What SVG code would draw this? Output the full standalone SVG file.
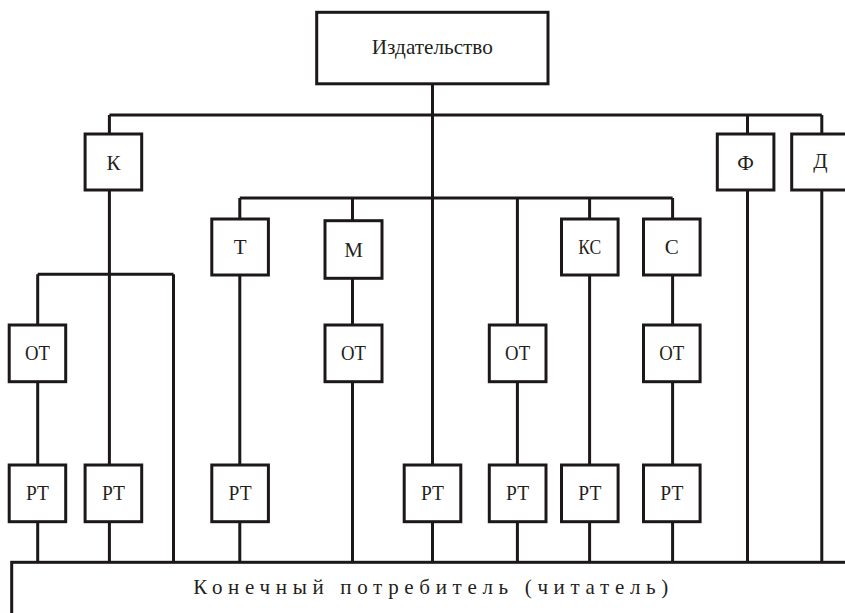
<svg xmlns="http://www.w3.org/2000/svg" width="845" height="613" viewBox="0 0 845 613">
<style>
.box{fill:#fff;stroke:#1c1819;stroke-width:3}
.ln{fill:none;stroke:#1c1819;stroke-width:3;stroke-linecap:butt}
.t{font-family:'Liberation Serif','DejaVu Serif',serif;font-size:21px;fill:#231f20;text-anchor:middle}
</style>
<rect width="845" height="613" fill="#fff"/>
<g id="connectors">
<path class="ln" d="M432.5 84V465M432.5 521.7V562"/>
<path class="ln" d="M109.4 115H821.8"/>
<path class="ln" d="M109.4 115V134M109.4 190V465M109.4 521.7V562"/>
<path class="ln" d="M37.7 274.3H173.5"/>
<path class="ln" d="M37.7 274.3V325M37.7 381.7V465M37.7 521.7V562"/>
<path class="ln" d="M173.5 274.3V562"/>
<path class="ln" d="M747.5 115V134M747.5 190V562"/>
<path class="ln" d="M821.8 115V134M821.8 190V562"/>
<path class="ln" d="M239.8 198H672.6"/>
<path class="ln" d="M239.8 198V219M239.8 275V465M239.8 521.7V562"/>
<path class="ln" d="M352.5 198V220.7M352.5 278.3V325M352.5 381.7V562"/>
<path class="ln" d="M517.4 198V325M517.4 381.7V465M517.4 521.7V562"/>
<path class="ln" d="M589.6 198V219M589.6 275V465M589.6 521.7V562"/>
<path class="ln" d="M672.6 198V219M672.6 275V325M672.6 381.7V465M672.6 521.7V562"/>
</g>
<g id="izdatelstvo"><rect class="box" x="316.7" y="12.3" width="231.3" height="71.5"/><text class="t" font-family="Liberation Serif, serif" x="432.3" y="54" font-size="22" textLength="121" lengthAdjust="spacingAndGlyphs">Издательство</text></g>
<g id="k"><rect class="box" x="85.1" y="134" width="56.6" height="56"/><text class="t" x="113.4" y="170">К</text></g>
<g id="f"><rect class="box" x="717.3" y="134" width="56.6" height="56"/><text class="t" x="745.6" y="170">Ф</text></g>
<g id="d"><rect class="box" x="791.7" y="134" width="70" height="56"/><text class="t" x="820.5" y="168">Д</text></g>
<g id="t"><rect class="box" x="211.8" y="219" width="56.6" height="56"/><text class="t" x="240.1" y="254">Т</text></g>
<g id="m"><rect class="box" x="325" y="220.7" width="57" height="57.6"/><text class="t" x="353.5" y="256.5">М</text></g>
<g id="ks"><rect class="box" x="561.5" y="219" width="56.6" height="56"/><text class="t" x="589.8" y="254" textLength="23" lengthAdjust="spacingAndGlyphs">КС</text></g>
<g id="s"><rect class="box" x="643.5" y="219" width="56.6" height="56"/><text class="t" x="671.8" y="254">С</text></g>
<g id="ot1"><rect class="box" x="9.2" y="325" width="56.5" height="56.7"/><text class="t" x="37.5" y="360" textLength="25" lengthAdjust="spacingAndGlyphs">ОТ</text></g>
<g id="ot2"><rect class="box" x="325" y="325" width="57" height="56.7"/><text class="t" x="353.5" y="360" textLength="25" lengthAdjust="spacingAndGlyphs">ОТ</text></g>
<g id="ot3"><rect class="box" x="489.3" y="325" width="56.7" height="56.7"/><text class="t" x="517.6" y="360" textLength="25" lengthAdjust="spacingAndGlyphs">ОТ</text></g>
<g id="ot4"><rect class="box" x="643.5" y="325" width="56.6" height="56.7"/><text class="t" x="671.8" y="360" textLength="25" lengthAdjust="spacingAndGlyphs">ОТ</text></g>
<g id="rt1"><rect class="box" x="9.2" y="465" width="56.5" height="56.7"/><text class="t" x="37.5" y="500" textLength="23" lengthAdjust="spacingAndGlyphs">РТ</text></g>
<g id="rt2"><rect class="box" x="85.1" y="465" width="56.6" height="56.7"/><text class="t" x="113.4" y="500" textLength="23" lengthAdjust="spacingAndGlyphs">РТ</text></g>
<g id="rt3"><rect class="box" x="211.8" y="465" width="56.6" height="56.7"/><text class="t" x="240.1" y="500" textLength="23" lengthAdjust="spacingAndGlyphs">РТ</text></g>
<g id="rt4"><rect class="box" x="404.2" y="465" width="56.6" height="56.7"/><text class="t" x="432.5" y="500" textLength="23" lengthAdjust="spacingAndGlyphs">РТ</text></g>
<g id="rt5"><rect class="box" x="489.3" y="465" width="56.7" height="56.7"/><text class="t" x="517.6" y="500" textLength="23" lengthAdjust="spacingAndGlyphs">РТ</text></g>
<g id="rt6"><rect class="box" x="561.5" y="465" width="56.6" height="56.7"/><text class="t" x="589.8" y="500" textLength="23" lengthAdjust="spacingAndGlyphs">РТ</text></g>
<g id="rt7"><rect class="box" x="643.5" y="465" width="56.6" height="56.7"/><text class="t" x="671.8" y="500" textLength="23" lengthAdjust="spacingAndGlyphs">РТ</text></g>
<g id="consumer"><rect class="box" x="11.7" y="562.3" width="850" height="80"/><text class="t" x="193.3" y="594.3" font-size="20" style="text-anchor:start" textLength="475" lengthAdjust="spacing">Конечный потребитель (читатель)</text></g>
</svg>
